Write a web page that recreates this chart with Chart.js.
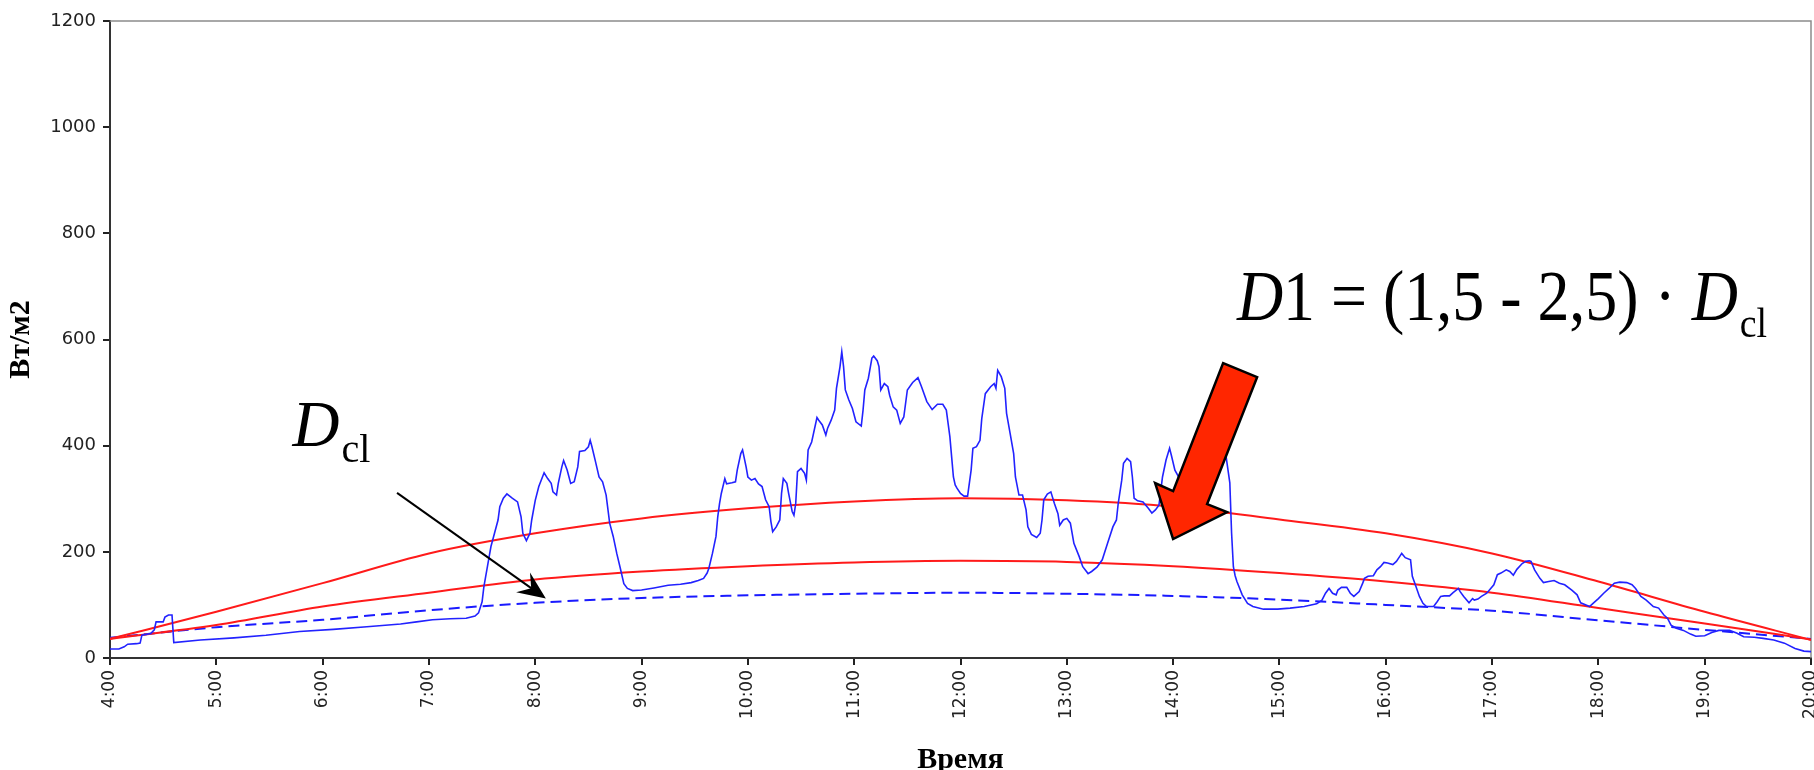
<!DOCTYPE html>
<html>
<head>
<meta charset="utf-8">
<script src="https://cdn.jsdelivr.net/npm/chart.js@4.4.1/dist/chart.umd.min.js"></script>
<style>
html,body{margin:0;padding:0;background:#fff;overflow:hidden}
</style>
</head>
<body>
<canvas id="radChart" width="1814" height="770"></canvas>
<script>
// hourly model curves (Вт/м2)
const modelHours = ["4:00","5:00","6:00","7:00","8:00","9:00","10:00","11:00","12:00",
                    "13:00","14:00","15:00","16:00","17:00","18:00","19:00","20:00"];
const upperBound = [36, 87, 141, 197, 235, 263, 282, 295, 301, 297, 285, 261, 235, 197, 144, 87, 34];
const lowerBound = [36, 62, 97, 123, 148, 163, 173, 180, 183, 181, 173, 160, 144, 123, 94, 65, 35];
const clearSky   = [38, 58, 72, 90, 104, 113, 118, 121, 123, 121, 117, 110, 100, 89, 71, 53, 36];

// measured diffuse radiation
const measuredTimes = [
  "4:00","4:05","4:08","4:10","4:15","4:17","4:18","4:23","4:25","4:26","4:30","4:31","4:33","4:35","4:36","4:51",
  "5:10","5:28","5:47","6:06","6:25","6:44","6:53",
  "7:02","7:12","7:21","7:26","7:28","7:30","7:31","7:33","7:35","7:37","7:39","7:40","7:42","7:44","7:47","7:50","7:52","7:53","7:55","7:57","7:58",
  "8:00","8:02","8:05","8:07","8:09","8:10","8:12","8:13","8:15","8:16","8:18","8:20","8:22","8:24","8:25","8:28","8:30","8:31","8:32","8:34","8:36","8:38","8:40","8:42","8:44","8:46","8:48","8:50","8:52","8:55",
  "9:00","9:07","9:15","9:22","9:28","9:32","9:35","9:37","9:38","9:40","9:42","9:43","9:44","9:45","9:47","9:48","9:51","9:53","9:54","9:56","9:57","9:59",
  "10:00","10:02","10:04","10:06","10:08","10:10","10:12","10:13","10:14","10:16","10:18","10:19","10:20","10:22","10:23","10:25","10:26","10:27","10:28","10:30","10:32","10:33","10:34","10:36","10:39","10:40","10:42","10:44","10:45","10:47","10:49","10:50","10:52","10:53","10:54","10:55","10:57","10:59",
  "11:01","11:04","11:05","11:06","11:08","11:10","11:11","11:13","11:14","11:15","11:17","11:19","11:20","11:22","11:24","11:26","11:28","11:30","11:33","11:36","11:38","11:41","11:44","11:47","11:50","11:52","11:53","11:54","11:55","11:56","11:57","11:58",
  "12:00","12:02","12:04","12:06","12:07","12:09","12:11","12:12","12:14","12:17","12:19","12:20","12:21","12:23","12:25","12:26","12:28","12:30","12:31","12:33","12:35","12:37","12:38","12:40","12:43","12:45","12:46","12:47","12:49","12:51","12:53","12:55","12:56","12:58",
  "13:00","13:02","13:04","13:07","13:09","13:12","13:14","13:17","13:20","13:23","13:26","13:28","13:29","13:31","13:32","13:34","13:36","13:37","13:38","13:40","13:43","13:46","13:48","13:50","13:52","13:54","13:56","13:58","13:59",
  "14:01","14:05","14:10","14:15","14:20","14:25","14:30","14:32","14:33","14:34","14:35","14:36","14:39","14:42","14:45","14:51","14:59",
  "15:06","15:14","15:21","15:24","15:26","15:28","15:30","15:32","15:33","15:35","15:38","15:40","15:42","15:45","15:47","15:48","15:50","15:53","15:55","15:57","15:59",
  "16:01","16:04","16:06","16:08","16:09","16:11","16:14","16:15","16:17","16:19","16:21","16:23","16:27","16:29","16:31","16:33","16:36","16:38","16:41","16:42","16:44","16:47","16:49","16:50","16:52","16:54","16:57","16:59",
  "17:01","17:03","17:05","17:08","17:10","17:12","17:14","17:17","17:19","17:21","17:22","17:24","17:27","17:29","17:32","17:35","17:38","17:41","17:45","17:48","17:50","17:53","17:55","17:57",
  "18:00","18:03","18:06","18:09","18:12","18:16","18:19","18:21","18:24","18:27","18:31","18:34","18:37","18:39","18:41","18:44","18:48","18:52","18:55",
  "19:00","19:04","19:08","19:14","19:18","19:22","19:28","19:33","19:39","19:45","19:51","19:56","20:00"
];
const measuredValues = [
  17,17,21,26,27,28,43,46,53,68,68,77,81,81,29,34,
  38,43,50,54,59,64,68,
  72,74,75,79,85,106,134,172,210,235,260,285,301,309,301,294,266,235,221,235,260,
  297,323,349,338,329,313,307,329,360,372,354,329,332,360,389,391,398,410,398,370,341,332,307,254,229,197,169,140,131,127,
  128,132,137,139,142,146,150,160,169,197,229,266,291,310,338,328,330,332,354,385,392,360,
  341,335,338,328,323,298,285,257,238,247,260,310,338,329,310,276,269,291,351,357,348,335,392,407,453,448,439,420,433,448,467,508,549,577,549,505,486,470,
  445,437,467,505,527,565,569,560,549,505,517,511,495,473,467,442,454,505,519,528,511,483,468,478,478,467,442,417,379,341,326,320,
  310,305,305,354,395,398,410,451,498,511,517,508,542,530,508,461,423,385,341,307,307,279,247,233,227,235,260,298,309,313,291,272,250,260,
  263,254,216,191,172,159,163,171,185,216,247,260,291,335,367,376,370,341,301,296,294,282,273,279,288,341,373,395,382,
  354,330,320,340,360,375,377,330,235,172,155,144,119,103,97,92,92,
  94,97,102,109,122,131,122,119,128,133,133,122,116,125,141,150,154,155,166,172,180,
  179,176,182,192,197,189,185,154,135,116,103,97,97,106,116,117,117,123,131,125,116,104,112,109,111,116,122,130,
  138,157,160,166,163,156,167,178,182,183,182,166,150,142,144,146,141,138,128,119,104,100,97,103,
  112,122,131,141,143,142,138,131,116,109,97,94,81,75,62,56,52,45,41,
  42,48,52,52,47,40,39,37,34,28,18,13,12
];

// annotation anchors, in chart units
const dclLabel = {time: "5:43", value: 399};
const dclArrow = {from: {time: "6:42", value: 311}, to: {time: "8:06", value: 112}};
const formulaLabel = {time: "14:36", value: 636};
const redArrowTip = {time: "14:00", value: 224};

const toMin = t => {
    const [h, m] = t.split(":");
    return Number(h) * 60 + Number(m);
};

const modelPoints = arr => arr.map((v, i) => ({x: toMin(modelHours[i]), y: v}));
const measuredPoints = measuredValues.map((v, i) => ({x: toMin(measuredTimes[i]), y: v}));

const serif = '"Liberation Serif", "Times New Roman", serif';

const notes = {
    id: "notes",
    beforeDatasetsDraw(chart) {
        const {ctx, chartArea: a} = chart;
        ctx.save();
        ctx.strokeStyle = "#8c8c8c";
        ctx.lineWidth = 1.5;
        ctx.beginPath();
        ctx.moveTo(a.left, a.top);
        ctx.lineTo(a.right, a.top);
        ctx.lineTo(a.right, a.bottom);
        ctx.stroke();
        ctx.restore();
    },
    afterDatasetsDraw(chart) {
        const {ctx, scales: {x, y}} = chart;
        const px = t => x.getPixelForValue(toMin(t));
        const py = v => y.getPixelForValue(v);
        ctx.save();
        ctx.fillStyle = "#000";
        ctx.textBaseline = "alphabetic";
        ctx.textAlign = "left";

        // D_cl label
        let lx = px(dclLabel.time), ly = py(dclLabel.value);
        ctx.font = "italic 65px " + serif;
        ctx.fillText("D", lx, ly);
        const dw = ctx.measureText("D").width;
        ctx.font = "40px " + serif;
        ctx.fillText("cl", lx + dw + 2, ly + 16);

        // thin black arrow
        const x0 = px(dclArrow.from.time), y0 = py(dclArrow.from.value);
        const x1 = px(dclArrow.to.time), y1 = py(dclArrow.to.value);
        const len = Math.hypot(x1 - x0, y1 - y0);
        const ux = (x1 - x0) / len, uy = (y1 - y0) / len;
        const nx = -uy, ny = ux;
        ctx.strokeStyle = "#000";
        ctx.lineWidth = 2;
        ctx.beginPath();
        ctx.moveTo(x0, y0);
        ctx.lineTo(x1 - ux * 15, y1 - uy * 15);
        ctx.stroke();
        ctx.beginPath();
        ctx.moveTo(x1, y1);
        ctx.lineTo(x1 - ux * 28 + nx * 12, y1 - uy * 28 + ny * 12);
        ctx.lineTo(x1 - ux * 18, y1 - uy * 18);
        ctx.lineTo(x1 - ux * 28 - nx * 12, y1 - uy * 28 - ny * 12);
        ctx.closePath();
        ctx.fill();

        // formula
        const fx = px(formulaLabel.time), fy = py(formulaLabel.value);
        ctx.save();
        ctx.translate(fx, fy);
        ctx.scale(0.9, 1);
        let cx = 0;
        ctx.font = "italic 71px " + serif;
        ctx.fillText("D", cx, 0);
        cx += ctx.measureText("D").width;
        ctx.font = "71px " + serif;
        const mid = "1 = (1,5 - 2,5) \u00b7 ";
        ctx.fillText(mid, cx, 0);
        cx += ctx.measureText(mid).width;
        ctx.font = "italic 71px " + serif;
        ctx.fillText("D", cx, 0);
        cx += ctx.measureText("D").width + 2;
        ctx.font = "42px " + serif;
        ctx.fillText("cl", cx, 17);
        ctx.restore();

        // big red arrow
        const tx = px(redArrowTip.time), ty = py(redArrowTip.value);
        const shape = [[0, 0], [-18, -56], [0, -48], [50, -176], [84, -162], [34, -35], [54, -27]];
        ctx.beginPath();
        shape.forEach(([dx, dy], i) => {
            if (i === 0) ctx.moveTo(tx + dx, ty + dy);
            else ctx.lineTo(tx + dx, ty + dy);
        });
        ctx.closePath();
        ctx.fillStyle = "#ff2600";
        ctx.fill();
        ctx.lineWidth = 2.5;
        ctx.lineJoin = "miter";
        ctx.strokeStyle = "#000";
        ctx.stroke();

        ctx.restore();
    }
};

new Chart(
    document.getElementById("radChart"),
    {
        type: "line",
        data: {
            datasets: [
                {
                    label: "measured",
                    data: measuredPoints,
                    borderColor: "#2222ff",
                    borderWidth: 1.6,
                    pointRadius: 0,
                    fill: false
                },
                {
                    label: "upper",
                    data: modelPoints(upperBound),
                    borderColor: "#ff1a1a",
                    borderWidth: 2,
                    pointRadius: 0,
                    cubicInterpolationMode: "monotone",
                    fill: false
                },
                {
                    label: "lower",
                    data: modelPoints(lowerBound),
                    borderColor: "#ff1a1a",
                    borderWidth: 2,
                    pointRadius: 0,
                    cubicInterpolationMode: "monotone",
                    fill: false
                },
                {
                    label: "clear",
                    data: modelPoints(clearSky),
                    borderColor: "#1a1aff",
                    borderWidth: 2,
                    borderDash: [11, 6],
                    pointRadius: 0,
                    cubicInterpolationMode: "monotone",
                    fill: false
                }
            ]
        },
        options: {
            responsive: false,
            animation: false,
            devicePixelRatio: 1,
            layout: {padding: {top: 21, right: 3, left: 0, bottom: 0}},
            plugins: {legend: {display: false}, tooltip: {enabled: false}},
            scales: {
                x: {
                    type: "linear",
                    min: toMin(modelHours[0]),
                    max: toMin(modelHours[modelHours.length - 1]),
                    afterFit: s => { s.paddingLeft = 0; s.paddingRight = 0; s.height = 112; },
                    ticks: {
                        stepSize: 60,
                        autoSkip: false,
                        minRotation: 90,
                        maxRotation: 90,
                        padding: 5,
                        color: "#222",
                        font: {family: "DejaVu Sans", size: 17},
                        callback: v => (v / 60) + ":00"
                    },
                    grid: {display: true, drawOnChartArea: false, drawTicks: true, tickLength: 7, color: "#222", lineWidth: 2},
                    border: {display: true, color: "#333", width: 2},
                    title: {
                        display: true,
                        text: "Время",
                        color: "#000",
                        font: {family: serif, size: 30, weight: "bold", lineHeight: 0.67},
                        padding: {top: 0, bottom: 0}
                    }
                },
                y: {
                    min: 0,
                    max: 1200,
                    afterFit: s => { s.width = 110; },
                    ticks: {
                        stepSize: 200,
                        padding: 7,
                        color: "#222",
                        font: {family: "DejaVu Sans", size: 18},
                        callback: v => String(v)
                    },
                    grid: {display: true, drawOnChartArea: false, drawTicks: true, tickLength: 7, color: "#222", lineWidth: 2},
                    border: {display: true, color: "#333", width: 2},
                    title: {
                        display: true,
                        text: "Вт/м2",
                        color: "#000",
                        font: {family: serif, size: 30, weight: "bold", lineHeight: 1},
                        padding: {top: 6, bottom: 0}
                    }
                }
            }
        },
        plugins: [notes]
    }
);
</script>
</body>
</html>
